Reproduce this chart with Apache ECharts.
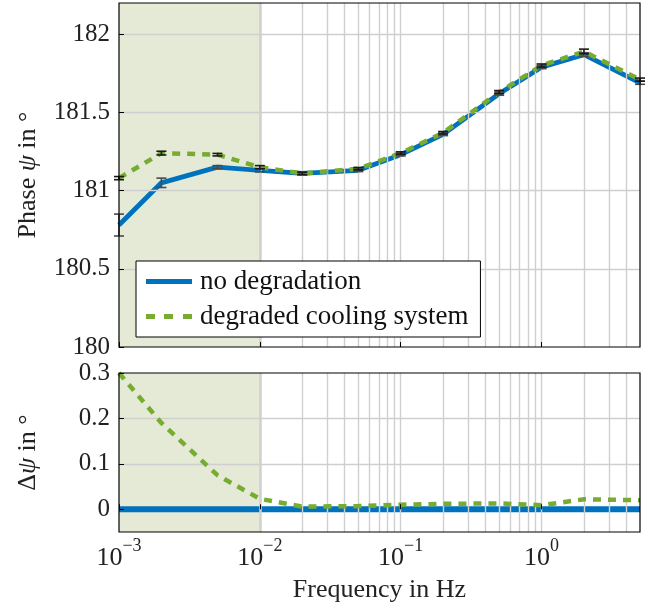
<!DOCTYPE html>
<html><head><meta charset="utf-8">
<script src="https://cdn.jsdelivr.net/npm/echarts@6/dist/echarts.min.js"></script>
<style>html,body{margin:0;padding:0;background:#fff}#c{width:652px;height:611px}</style>
</head><body><div id="c"></div><script>
// ---- data ----
const frequencies   = [0.001, 0.002, 0.005, 0.01, 0.02, 0.05, 0.1, 0.2, 0.5, 1, 2, 5];
const phaseNominal  = [180.78, 181.05, 181.15, 181.13, 181.11, 181.13, 181.23, 181.36, 181.62, 181.79, 181.87, 181.69];
const phaseDegraded = [181.08, 181.24, 181.23, 181.15, 181.11, 181.14, 181.24, 181.37, 181.63, 181.80, 181.89, 181.71];
const errNominal    = [0.07, 0.03, 0.01, 0.01, 0.008, 0.008, 0.008, 0.008, 0.01, 0.01, 0.012, 0.01];
const errDegraded   = [0.01, 0.012, 0.008, 0.01, 0.008, 0.008, 0.008, 0.008, 0.01, 0.01, 0.015, 0.01];
const deltaNominal  = [0, 0, 0, 0, 0, 0, 0, 0, 0, 0, 0, 0];
const deltaDegraded = [0.30, 0.19, 0.075, 0.023, 0.006, 0.007, 0.010, 0.012, 0.013, 0.009, 0.022, 0.020];
const xTicks        = [0.001, 0.01, 0.1, 1];
const phaseTicks    = [180, 180.5, 181, 181.5, 182];
const deltaTicks    = [0, 0.1, 0.2, 0.3];
const shadeRange    = [0.001, 0.01];
const seriesNames   = ['no degradation', 'degraded cooling system'];

// ---- styling ----
const FONT = 'Liberation Serif';
const BLUE = '#0072bd', GREEN = '#77ac30';
const GRIDC = '#cfcfcf';
const XMIN = 0.001, XMAX = 5;

// grid line positions (major decades + minor 2..9)
const vLines = [];
for (let k = -3; k <= 0; k++) {
  for (let m = 1; m <= 9; m++) {
    const v = m * Math.pow(10, k);
    if (v > XMIN && v < XMAX) vLines.push(+v.toPrecision(3));
  }
}

function pairs(xs, ys) { return xs.map((x, i) => [x, ys[i]]); }
function errData(xs, ys, es) { return xs.map((x, i) => [x, ys[i] - es[i], ys[i] + es[i]]); }

function xLabelFmt(v) {
  const e = Math.round(Math.log10(v));
  return '{b|10}{s|' + (e < 0 ? '\u2212' + (-e) : e) + '}';
}
const xRich = {
  b: { fontFamily: FONT, fontSize: 26, color: '#222', verticalAlign: 'bottom', lineHeight: 34 },
  s: { fontFamily: FONT, fontSize: 18, color: '#222', verticalAlign: 'top', lineHeight: 34 }
};
const yRich = { n: { fontFamily: FONT, fontSize: 25, color: '#222' } };
function yFmt(v) { return '{n|' + String(+v.toFixed(2)) + '}'; }

function errRender(color) {
  return function (params, api) {
    const x = api.value(0);
    const lo = api.coord([x, api.value(1)]);
    const hi = api.coord([x, api.value(2)]);
    const w = 5;
    const st = { stroke: color, lineWidth: 1.6 };
    return {
      type: 'group',
      children: [
        { type: 'line', shape: { x1: lo[0], y1: lo[1], x2: hi[0], y2: hi[1] }, style: st },
        { type: 'line', shape: { x1: lo[0] - w, y1: lo[1], x2: lo[0] + w, y2: lo[1] }, style: st },
        { type: 'line', shape: { x1: hi[0] - w, y1: hi[1], x2: hi[0] + w, y2: hi[1] }, style: st }
      ]
    };
  };
}

function gridLineSeries(idx, hVals) {
  return {
    type: 'line', data: [], xAxisIndex: idx, yAxisIndex: idx, z: 2, silent: true,
    markLine: {
      silent: true, symbol: 'none', animation: false, label: { show: false },
      lineStyle: { color: GRIDC, width: 1.4, type: 'solid' },
      data: vLines.map(v => ({ xAxis: v })).concat(hVals.map(v => ({ yAxis: v })))
    }
  };
}
function shadeSeries(idx) {
  return {
    type: 'line', data: [], xAxisIndex: idx, yAxisIndex: idx, z: 1, silent: true,
    markArea: {
      silent: true, animation: false,
      itemStyle: { color: '#e5ead6' },
      data: [[{ xAxis: shadeRange[0] }, { xAxis: shadeRange[1] }]]
    }
  };
}

const chart = echarts.init(document.getElementById('c'), null, { renderer: 'canvas' });
chart.setOption({
  animation: false,
  backgroundColor: '#fff',
  grid: [
    { left: 119, right: 12, top: 3, height: 344, show: true, borderColor: '#000', borderWidth: 1.2, backgroundColor: 'transparent', z: 10 },
    { left: 119, right: 12, top: 373, height: 159, show: true, borderColor: '#000', borderWidth: 1.2, backgroundColor: 'transparent', z: 10 }
  ],
  legend: {
    data: [
      { name: seriesNames[0], icon: 'path://M0,0h46v5h-46z' },
      { name: seriesNames[1], icon: 'path://M0,0h9v5h-9zM18,0h9v5h-9zM37,0h9v5h-9z' }
    ],
    orient: 'vertical',
    left: 136, top: 261,
    padding: [7, 12, 7, 10],
    itemGap: 8,
    itemWidth: 46, itemHeight: 5,
    backgroundColor: '#fff',
    borderColor: '#000', borderWidth: 1,
    textStyle: { fontFamily: FONT, fontSize: 27, color: '#111', padding: [0, 0, 0, 3] },
    z: 12
  },
  xAxis: [
    { type: 'log', logBase: 10, gridIndex: 0, min: XMIN, max: XMAX, z: 8,
      axisLine: { show: false }, splitLine: { show: false }, minorSplitLine: { show: false },
      axisTick: { show: true, inside: true, length: 5, lineStyle: { color: '#000' }, customValues: xTicks },
      axisLabel: { show: false, customValues: xTicks } },
    { type: 'log', logBase: 10, gridIndex: 1, min: XMIN, max: XMAX, z: 8,
      name: 'Frequency in Hz', nameLocation: 'middle', nameGap: 45,
      nameTextStyle: { fontFamily: FONT, fontSize: 26, color: '#222' },
      axisLine: { show: false }, splitLine: { show: false },
      axisTick: { show: true, inside: true, length: 5, lineStyle: { color: '#000' }, customValues: xTicks },
      axisLabel: { show: true, margin: 5, customValues: xTicks, formatter: xLabelFmt, rich: xRich } }
  ],
  yAxis: [
    { type: 'value', gridIndex: 0, min: 180, max: 182.2, z: 8,
      name: '{r|Phase }{i|\u03C8}{r| in \u00B0}', nameLocation: 'middle', nameGap: 78, nameRotate: 90,
      nameTextStyle: { rich: { r: { fontFamily: FONT, fontSize: 26, color: '#222' }, i: { fontFamily: FONT, fontStyle: 'italic', fontSize: 26, color: '#222' } } },
      axisLine: { show: false }, splitLine: { show: false },
      axisTick: { show: true, inside: true, length: 5, lineStyle: { color: '#000' }, customValues: phaseTicks },
      axisLabel: { show: true, margin: 9, customValues: phaseTicks, formatter: yFmt, rich: yRich } },
    { type: 'value', gridIndex: 1, min: -0.05, max: 0.3, z: 8,
      name: '{r|\u0394}{i|\u03C8}{r| in \u00B0}', nameLocation: 'middle', nameGap: 78, nameRotate: 90,
      nameTextStyle: { rich: { r: { fontFamily: FONT, fontSize: 26, color: '#222' }, i: { fontFamily: FONT, fontStyle: 'italic', fontSize: 26, color: '#222' } } },
      axisLine: { show: false }, splitLine: { show: false },
      axisTick: { show: true, inside: true, length: 5, lineStyle: { color: '#000' }, customValues: deltaTicks },
      axisLabel: { show: true, margin: 9, customValues: deltaTicks, formatter: yFmt, rich: yRich } }
  ],
  series: [
    shadeSeries(0),
    shadeSeries(1),
    gridLineSeries(0, phaseTicks.slice(1)),
    gridLineSeries(1, deltaTicks.slice(1, 3)),
    { name: seriesNames[0], type: 'line', xAxisIndex: 0, yAxisIndex: 0, z: 4,
      data: pairs(frequencies, phaseNominal), showSymbol: false, symbol: 'none',
      lineStyle: { color: BLUE, width: 4.8 }, itemStyle: { color: BLUE } },
    { name: seriesNames[1], type: 'line', xAxisIndex: 0, yAxisIndex: 0, z: 5,
      data: pairs(frequencies, phaseDegraded), showSymbol: false, symbol: 'none',
      lineStyle: { color: GREEN, width: 4.5, type: [8, 7] }, itemStyle: { color: GREEN } },
    { type: 'custom', xAxisIndex: 0, yAxisIndex: 0, z: 6, silent: true,
      renderItem: errRender('#4a4a4a'), data: errData(frequencies, phaseNominal, errNominal) },
    { type: 'custom', xAxisIndex: 0, yAxisIndex: 0, z: 6, silent: true,
      renderItem: errRender('#1a1a1a'), data: errData(frequencies, phaseDegraded, errDegraded) },
    { name: seriesNames[0], type: 'line', xAxisIndex: 1, yAxisIndex: 1, z: 4,
      data: pairs(frequencies, deltaNominal), showSymbol: false, symbol: 'none',
      lineStyle: { color: BLUE, width: 6 }, itemStyle: { color: BLUE } },
    { name: seriesNames[1], type: 'line', xAxisIndex: 1, yAxisIndex: 1, z: 5,
      data: pairs(frequencies, deltaDegraded), showSymbol: false, symbol: 'none',
      lineStyle: { color: GREEN, width: 4.5, type: [8, 7] }, itemStyle: { color: GREEN } }
  ]
});
</script></body></html>
